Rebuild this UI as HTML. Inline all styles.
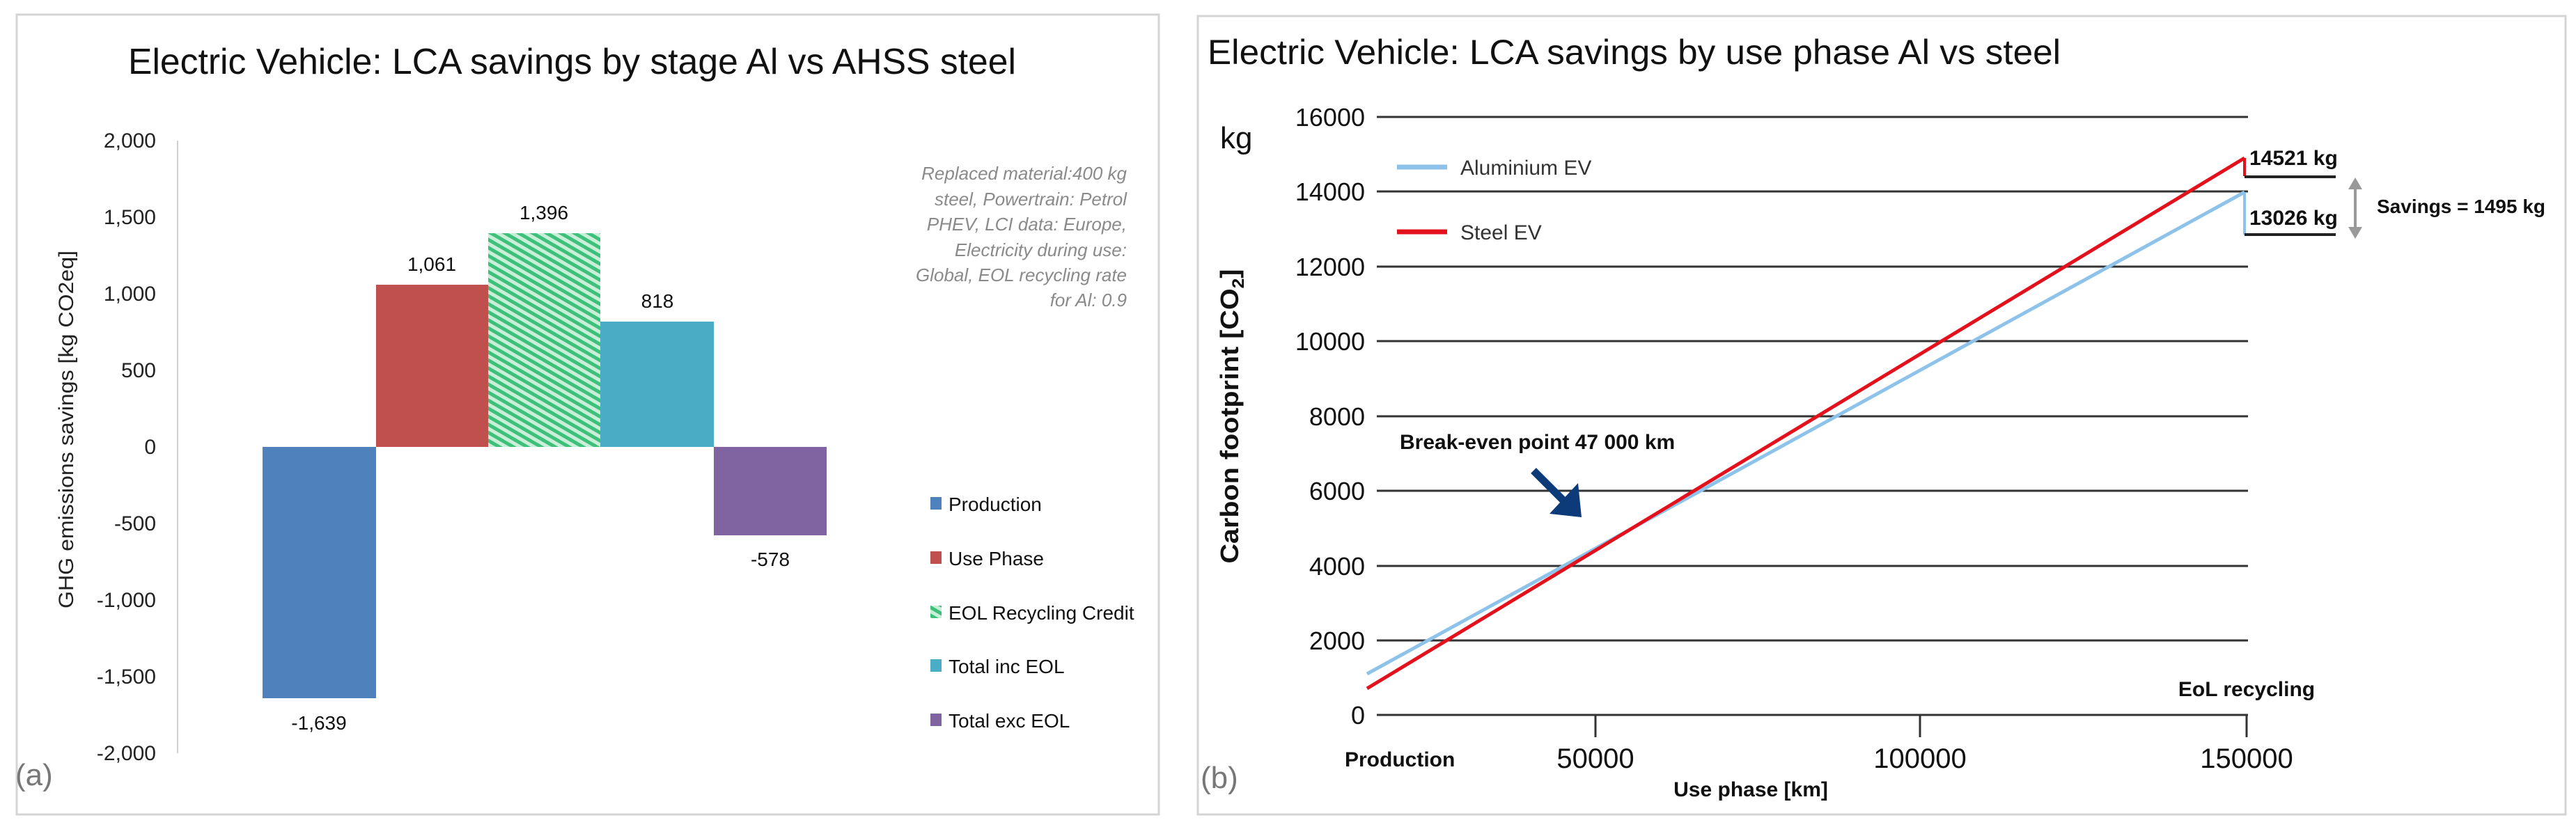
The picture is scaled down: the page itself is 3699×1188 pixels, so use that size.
<!DOCTYPE html>
<html><head><meta charset="utf-8"><style>html,body{margin:0;padding:0;background:#fff}svg{display:block}</style></head>
<body>
<svg width="3699" height="1188" viewBox="0 0 3699 1188" xmlns="http://www.w3.org/2000/svg" font-family="Liberation Sans, sans-serif">
<defs>
<pattern id="hatch" width="10" height="10" patternUnits="userSpaceOnUse" patternTransform="rotate(-60)">
<rect width="10" height="10" fill="#c9efd8"/>
<rect width="5" height="10" fill="#3cc07a"/>
</pattern>
</defs>
<rect x="0" y="0" width="3699" height="1188" fill="#fff"/>
<!-- Panel a -->
<rect x="24" y="21" width="1640" height="1149" fill="#fff" stroke="#d4d4d4" stroke-width="3"/>
<text x="184" y="106" font-size="52" textLength="1275" lengthAdjust="spacingAndGlyphs" fill="#111">Electric Vehicle: LCA savings by stage Al vs AHSS steel</text>
<line x1="255" y1="202" x2="255" y2="1082" stroke="#d0d0d0" stroke-width="2"/>
<g font-size="30" text-anchor="end" fill="#222">
<text x="224" y="212">2,000</text><text x="224" y="322">1,500</text><text x="224" y="432">1,000</text>
<text x="224" y="542">500</text><text x="224" y="652">0</text><text x="224" y="762">-500</text>
<text x="224" y="872">-1,000</text><text x="224" y="982">-1,500</text><text x="224" y="1092">-2,000</text>
</g>
<text transform="translate(105,617) rotate(-90)" font-size="30" text-anchor="middle" textLength="514" lengthAdjust="spacingAndGlyphs" fill="#222">GHG emissions savings [kg CO2eq]</text>
<rect x="377" y="642" width="163" height="361" fill="#4f81bd"/>
<rect x="540" y="409" width="161" height="233" fill="#c0504d"/>
<rect x="701" y="335" width="161" height="307" fill="url(#hatch)"/>
<rect x="862" y="462" width="163" height="180" fill="#4bacc6"/>
<rect x="1025" y="642" width="162" height="127" fill="#8064a2"/>
<g font-size="28" text-anchor="middle" fill="#111">
<text x="458" y="1048">-1,639</text>
<text x="620" y="389">1,061</text>
<text x="781" y="315">1,396</text>
<text x="944" y="442">818</text>
<text x="1106" y="813">-578</text>
</g>
<g font-size="26" font-style="italic" text-anchor="end" fill="#8a8a8a">
<text x="1618" y="258">Replaced material:400 kg</text>
<text x="1618" y="295">steel, Powertrain: Petrol</text>
<text x="1618" y="331">PHEV, LCI data: Europe,</text>
<text x="1618" y="368">Electricity during use:</text>
<text x="1618" y="404">Global, EOL recycling rate</text>
<text x="1618" y="440">for Al: 0.9</text>
</g>
<g font-size="28" fill="#111">
<rect x="1336" y="714" width="16" height="18" fill="#4f81bd"/><text x="1362" y="734">Production</text>
<rect x="1336" y="792" width="16" height="18" fill="#c0504d"/><text x="1362" y="812">Use Phase</text>
<rect x="1336" y="870" width="16" height="18" fill="url(#hatch)"/><text x="1362" y="890">EOL Recycling Credit</text>
<rect x="1336" y="947" width="16" height="18" fill="#4bacc6"/><text x="1362" y="967">Total inc EOL</text>
<rect x="1336" y="1025" width="16" height="18" fill="#8064a2"/><text x="1362" y="1045">Total exc EOL</text>
</g>
<text x="22" y="1128" font-size="44" fill="#777">(a)</text>

<!-- Panel b -->
<rect x="1720" y="23" width="1964" height="1147" fill="#fff" stroke="#d4d4d4" stroke-width="3"/>
<text x="1734" y="92" font-size="50" textLength="1225" lengthAdjust="spacingAndGlyphs" fill="#111">Electric Vehicle: LCA savings by use phase Al vs steel</text>
<text x="1752" y="213" font-size="44" fill="#111">kg</text>
<g stroke="#333" stroke-width="3">
<line x1="1977" y1="168" x2="3228" y2="168"/><line x1="1977" y1="275" x2="3228" y2="275"/>
<line x1="1977" y1="383" x2="3228" y2="383"/><line x1="1977" y1="490" x2="3228" y2="490"/>
<line x1="1977" y1="598" x2="3228" y2="598"/><line x1="1977" y1="705" x2="3228" y2="705"/>
<line x1="1977" y1="813" x2="3228" y2="813"/><line x1="1977" y1="920" x2="3228" y2="920"/>
<line x1="1977" y1="1027" x2="3228" y2="1027"/>
<line x1="2291" y1="1027" x2="2291" y2="1059"/><line x1="2757" y1="1027" x2="2757" y2="1059"/><line x1="3226" y1="1027" x2="3226" y2="1059"/>
</g>
<g font-size="36" text-anchor="end" fill="#111">
<text x="1960" y="181">16000</text><text x="1960" y="288">14000</text><text x="1960" y="396">12000</text>
<text x="1960" y="503">10000</text><text x="1960" y="611">8000</text><text x="1960" y="718">6000</text>
<text x="1960" y="826">4000</text><text x="1960" y="933">2000</text><text x="1960" y="1040">0</text>
</g>
<text transform="translate(1778,598) rotate(-90)" font-size="36" font-weight="bold" text-anchor="middle" textLength="423" lengthAdjust="spacingAndGlyphs" fill="#111">Carbon footprint [CO<tspan font-size="24" dy="8">2</tspan><tspan dy="-8">]</tspan></text>
<line x1="1963" y1="968" x2="3223" y2="276" stroke="#8dc3ea" stroke-width="5"/>
<line x1="3223" y1="276" x2="3223" y2="337" stroke="#8dc3ea" stroke-width="4"/>
<line x1="1963" y1="989" x2="3223" y2="227" stroke="#e3111b" stroke-width="5"/>
<line x1="3223" y1="227" x2="3223" y2="253" stroke="#e3111b" stroke-width="4"/>
<line x1="3223" y1="254" x2="3354" y2="254" stroke="#222" stroke-width="4"/>
<line x1="3223" y1="337" x2="3354" y2="337" stroke="#222" stroke-width="4"/>
<g font-size="30" font-weight="bold" fill="#111">
<text x="3230" y="237">14521 kg</text>
<text x="3230" y="323">13026 kg</text>
<text x="3413" y="306" font-size="28">Savings = 1495 kg</text>
<text x="2010" y="645" font-size="30">Break-even point 47 000 km</text>
<text x="3226" y="1000" font-size="30" text-anchor="middle">EoL recycling</text>
<text x="1931" y="1101" font-size="30">Production</text>
<text x="2514" y="1144" font-size="30" text-anchor="middle">Use phase [km]</text>
</g>
<g stroke="#999" stroke-width="4"><line x1="3382" y1="262" x2="3382" y2="336"/></g>
<polygon points="3372,272 3382,255 3392,272" fill="#999"/>
<polygon points="3372,326 3382,343 3392,326" fill="#999"/>
<g font-size="30" fill="#333">
<line x1="2006" y1="240" x2="2078" y2="240" stroke="#8dc3ea" stroke-width="7"/><text x="2097" y="251">Aluminium EV</text>
<line x1="2006" y1="333" x2="2078" y2="333" stroke="#e3111b" stroke-width="7"/><text x="2097" y="344">Steel EV</text>
</g>
<line x1="2202" y1="676" x2="2248" y2="722" stroke="#0d3a78" stroke-width="11"/>
<polygon points="2271,743 2266,694 2225,738" fill="#0d3a78"/>
<g font-size="40" fill="#111" text-anchor="middle">
<text x="2291" y="1103">50000</text><text x="2757" y="1103">100000</text><text x="3226" y="1103">150000</text>
</g>
<text x="1724" y="1132" font-size="44" fill="#777">(b)</text>
</svg>
</body></html>
